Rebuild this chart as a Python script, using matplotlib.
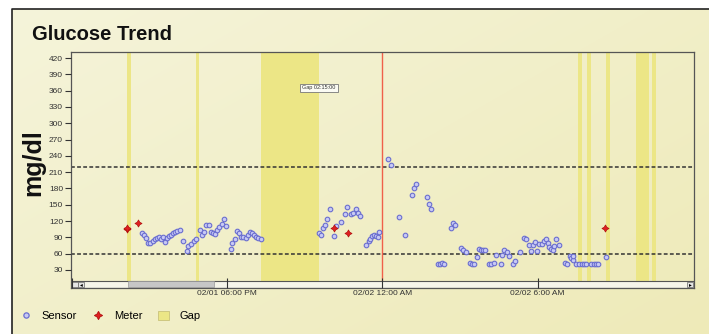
import numpy as np
import matplotlib
matplotlib.use('Agg')
import matplotlib.pyplot as plt
from matplotlib.lines import Line2D
from matplotlib.patches import Patch, Rectangle

plt.rcParams['font.family'] = ['Liberation Sans', 'DejaVu Sans']

# minutes after 02/01 12:00 PM
sensor_t = [162,167,172,177,182,188,192,197,202,207,212,217,221,225,230,235,240,245,252,257,
            267,270,276,283,288,297,302,307,311,317,323,327,333,337,342,348,352,357,368,372,
            378,382,388,392,398,403,408,413,418,422,427,432,438,
            572,577,583,588,592,598,608,613,623,633,638,647,653,658,664,668,683,688,692,697,
            701,706,709,713,
            733,739,758,773,788,793,798,824,828,833,848,854,858,863,879,883,889,903,908,913,
            923,928,933,939,943,949,953,958,968,973,978,983,994,998,1003,1008,1013,1023,1028,1039,
            1048,1053,1059,1064,1069,1074,1079,1084,1089,1094,1099,1103,1107,1111,1115,1118,1123,1129,1143,1148,
            1154,1158,1161,1163,1170,1176,1182,1187,1192,1204,1210,1215,1220,1239]
sensor_v = [97,94,88,79,80,84,87,89,91,87,90,81,89,92,95,97,99,101,103,84,
            64,74,77,83,87,103,95,99,113,113,100,97,96,103,109,115,124,111,68,80,
            87,102,97,90,90,89,95,100,97,94,91,88,87,
            97,95,107,113,124,143,93,110,118,132,146,132,134,143,134,129,76,83,87,92,
            94,92,91,100,
            235,224,127,94,167,181,189,165,151,142,40,40,42,41,107,117,113,71,67,63,
            43,40,41,54,69,66,67,67,40,40,43,57,41,58,67,62,56,40,46,62,
            88,86,75,65,75,81,64,77,78,83,86,79,72,69,67,74,86,76,43,41,
            55,51,49,55,40,40,40,40,40,40,40,40,40,54]

meter_t = [128, 129, 153, 607, 640, 1236]
meter_v = [105, 108, 116, 108, 98, 107]

gap_start = [128, 288, 438, 1174, 1194, 1238, 1308, 1344]
gap_end = [137, 296, 573, 1183, 1203, 1247, 1339, 1354]

high_limit = 220
low_limit = 60
midnight = 720

xticks = [0, 360, 720, 1080]
xlabels = ['', '02/01 06:00 PM', '02/02 12:00 AM', '02/02 6:00 AM']
yticks = list(range(30, 421, 30))

W, H = 709, 334
fig = plt.figure(figsize=(W / 100, H / 100), dpi=100)
fig.patch.set_facecolor('white')

# background panel with soft gradient
bg = fig.add_axes([0, 0, 1, 1], zorder=-10)
bg.axis('off')
gx = np.linspace(0, 1, 200)
gy = np.linspace(0, 1, 100)
GX, GY = np.meshgrid(gx, gy)
t = np.clip(0.55 * GX + 0.45 * GY, 0, 1)
c0 = np.array([245, 244, 218]) / 255
c1 = np.array([238, 234, 184]) / 255
img = c0[None, None, :] * (1 - t[..., None]) + c1[None, None, :] * t[..., None]
bg.imshow(img, extent=(12, W + 5, H + 5, 9), aspect='auto', interpolation='bilinear')
bg.plot([12, 12, W + 5], [H + 5, 9, 9], color='#222222', lw=1.2)
bg.set_xlim(0, W)
bg.set_ylim(H, 0)

ax = fig.add_axes([70.7 / W, 1 - 288 / H, (694 - 70.7) / W, (288 - 52) / H])
ax.set_facecolor('none')
ax.set_xlim(-2.5, 1442.5)
ax.set_ylim(-3.4, 431.3)

sb = 7 / 236  # scrollbar height in axes fraction
for s, e in zip(gap_start, gap_end):
    ax.axvspan(s, e, ymin=sb, ymax=1, color='#ece686', lw=0, zorder=1)

ax.axhline(high_limit, color='#333333', lw=1.1, ls=(0, (2.5, 1.5)), zorder=2)
ax.axhline(low_limit, color='#333333', lw=1.1, ls=(0, (2.5, 1.5)), zorder=2)
ax.axvline(midnight, ymin=sb, ymax=1, color='#f0604a', lw=1.0, zorder=2)

ax.plot(sensor_t, sensor_v, ls='none', marker='o', ms=3.3, mfc='#c8caf4', mec='#6a6ed0',
        mew=0.8, zorder=3)
ax.plot(meter_t, meter_v, ls='none', marker=(4, 1, 0), ms=5.2, mfc='#e02020', mec='#b01010',
        mew=0.5, zorder=4)

ax.text(573, 365, 'Gap 02:15:00', ha='center', va='center', fontsize=4, color='#333333',
        bbox=dict(boxstyle='square,pad=0.35', fc='#fbfbf4', ec='#777777', lw=0.6), zorder=5)

# scrollbar strip
ax.add_patch(Rectangle((0, 0), 1, sb, transform=ax.transAxes, fc='#f6f5ea', ec='#555555',
                       lw=0.8, zorder=2))
ax.add_patch(Rectangle((0.0914, 0.004), 0.138, sb - 0.006, transform=ax.transAxes,
                       fc='#c6c6c6', ec='#999999', lw=0.5, zorder=2))
for x0 in (0.002, 0.012):
    ax.add_patch(Rectangle((x0, 0.004), 0.009, sb - 0.008, transform=ax.transAxes,
                           fc='#e4e4e4', ec='#666666', lw=0.5, zorder=2))
ax.add_patch(Rectangle((0.989, 0.004), 0.009, sb - 0.008, transform=ax.transAxes,
                       fc='#e4e4e4', ec='#666666', lw=0.5, zorder=2))
ax.text(0.0165, sb / 2, '\u25c2', transform=ax.transAxes, fontsize=4, ha='center',
        va='center', family='DejaVu Sans', zorder=3)
ax.text(0.9935, sb / 2, '\u25b8', transform=ax.transAxes, fontsize=4, ha='center',
        va='center', family='DejaVu Sans', zorder=3)

ax.set_yticks(yticks)
ax.set_xticks(xticks)
ax.set_xticklabels(xlabels)
ax.tick_params(axis='y', labelsize=6, colors='#333333', length=4, width=0.8, pad=1.5)
ax.tick_params(axis='x', labelsize=6, colors='#333333', length=7, width=0.8, pad=1.5,
               direction='in')
for sp in ax.spines.values():
    sp.set_color('#555555')
    sp.set_linewidth(0.9)
ax.set_axisbelow(False)

fig.text(32 / W, 1 - 40.5 / H, 'Glucose Trend', fontsize=14.5, weight='bold',
         va='baseline', ha='left', color='#111111')
fig.text(33 / W, 1 - 163 / H, 'mg/dl', fontsize=18, weight='bold', rotation=90,
         ha='center', va='center', color='#111111')

handles = [
    Line2D([], [], ls='none', marker='o', ms=3.8, mfc='#c8caf4', mec='#6a6ed0', mew=0.9),
    Line2D([], [], ls='none', marker=(4, 1, 0), ms=6, mfc='#e02020', mec='#b01010', mew=0.6),
    Patch(fc='#ece686', ec='#c9c27a', lw=0.6),
]
fig.legend(handles, ['Sensor', 'Meter', 'Gap'], loc='center left',
           bbox_to_anchor=(20 / W, 1 - 316 / H), ncol=3, frameon=False, fontsize=8,
           handlelength=1.0, handleheight=0.9, handletextpad=0.9, columnspacing=1.45,
           borderpad=0, borderaxespad=0)

fig.savefig('out.png', dpi=100)
